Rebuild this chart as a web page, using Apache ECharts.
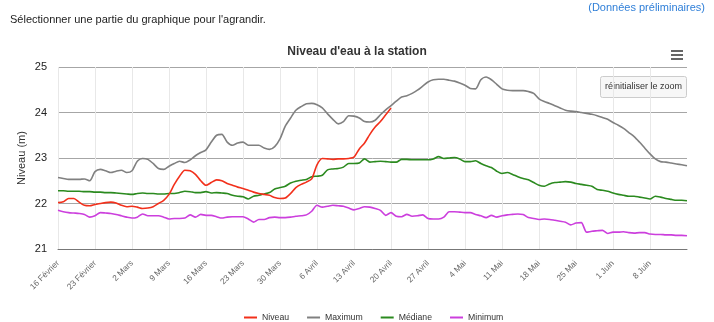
<!DOCTYPE html>
<html>
<head>
<meta charset="utf-8">
<script src="https://cdn.jsdelivr.net/npm/echarts@6/dist/echarts.min.js"></script>
<style>
html,body{margin:0;padding:0;background:#fff;}
#c{width:714px;height:322px;}
</style>
</head>
<body>
<div id="c"></div>
<script>
// Dates: 16 Feb .. 15 Jun (daily)
const monthNames = ["Janvier","Février","Mars","Avril","Mai","Juin"];
const monthDays = [31,28,31,30,31,30];
const startMonth = 1, startDay = 16, dayCount = 120;
const labelStep = 7, lastLabelIndex = 112;

const niveau = [22.02,22.04,22.11,22.11,22.03,21.96,21.95,21.98,22.00,22.02,
22.03,22.01,21.96,21.93,21.94,21.92,21.89,21.90,21.93,22.00,
22.07,22.20,22.42,22.60,22.73,22.72,22.64,22.50,22.40,22.46,
22.52,22.50,22.44,22.40,22.36,22.33,22.29,22.25,22.22,22.20,
22.18,22.13,22.11,22.12,22.22,22.35,22.42,22.47,22.54,22.85,
22.99,22.98,22.97,22.98,22.98,22.99,23.02,23.20,23.33,23.52,
23.68,23.80,23.95,24.10];

const maximum = [22.57,22.55,22.53,22.53,22.53,22.54,22.50,22.70,22.75,22.72,
22.68,22.71,22.73,22.68,22.72,22.93,22.99,22.97,22.88,22.77,
22.75,22.82,22.88,22.93,22.90,22.96,23.05,23.12,23.18,23.35,
23.50,23.52,23.35,23.28,23.33,23.35,23.28,23.28,23.28,23.22,
23.19,23.25,23.42,23.70,23.88,24.05,24.13,24.19,24.20,24.17,
24.10,23.97,23.85,23.75,23.80,23.93,23.92,23.88,23.80,23.79,
23.83,23.95,24.06,24.15,24.25,24.34,24.37,24.42,24.49,24.58,
24.67,24.72,24.73,24.73,24.71,24.69,24.65,24.60,24.53,24.52,
24.72,24.78,24.72,24.62,24.52,24.49,24.48,24.48,24.48,24.46,
24.42,24.30,24.24,24.20,24.15,24.10,24.05,24.03,24.02,24.00,
23.98,23.96,23.93,23.89,23.85,23.78,23.72,23.65,23.56,23.47,
23.35,23.22,23.09,22.98,22.92,22.91,22.89,22.87,22.85,22.83];

const mediane = [22.28,22.28,22.27,22.27,22.27,22.26,22.26,22.25,22.25,22.24,
22.24,22.23,22.22,22.21,22.20,22.22,22.23,22.22,22.22,22.21,
22.21,22.22,22.22,22.24,22.27,22.26,22.24,22.24,22.26,22.23,
22.24,22.23,22.22,22.18,22.16,22.15,22.10,22.16,22.18,22.21,
22.24,22.32,22.35,22.38,22.45,22.49,22.51,22.53,22.59,22.60,
22.62,22.74,22.76,22.77,22.80,22.88,22.88,22.89,22.98,22.91,
22.92,22.93,22.92,22.91,22.91,22.97,22.97,22.96,22.96,22.96,
22.96,22.98,23.03,22.99,23.00,23.01,22.98,22.92,22.92,22.94,
22.88,22.83,22.79,22.71,22.66,22.68,22.64,22.59,22.55,22.52,
22.46,22.40,22.38,22.43,22.46,22.47,22.48,22.47,22.44,22.42,
22.40,22.38,22.31,22.29,22.27,22.23,22.20,22.18,22.16,22.16,
22.14,22.12,22.10,22.16,22.14,22.11,22.09,22.07,22.07,22.06];

const minimum = [21.85,21.82,21.80,21.79,21.78,21.76,21.70,21.73,21.80,21.79,
21.78,21.76,21.73,21.70,21.68,21.70,21.77,21.73,21.73,21.73,
21.70,21.66,21.67,21.67,21.68,21.75,21.70,21.76,21.74,21.74,
21.71,21.68,21.70,21.71,21.71,21.71,21.66,21.59,21.65,21.65,
21.69,21.70,21.69,21.69,21.70,21.72,21.73,21.75,21.83,21.96,
21.92,21.94,21.96,21.95,21.94,21.90,21.86,21.89,21.93,21.92,
21.89,21.85,21.74,21.80,21.72,21.71,21.76,21.72,21.73,21.75,
21.67,21.66,21.66,21.70,21.82,21.82,21.81,21.80,21.80,21.76,
21.73,21.69,21.74,21.70,21.73,21.75,21.76,21.77,21.76,21.69,
21.67,21.65,21.66,21.65,21.63,21.61,21.59,21.53,21.57,21.58,
21.37,21.39,21.40,21.41,21.34,21.37,21.37,21.38,21.36,21.35,
21.36,21.36,21.33,21.32,21.32,21.31,21.31,21.30,21.30,21.29];

const seriesNames = ["Niveau","Maximum","Médiane","Minimum"];
const seriesColors = ["#f2301b","#808080","#2b8a1f","#cc3fdd"];
const yTicks = [21,22,23,24,25];

// build category labels
const categories = [];
{
  let m = startMonth, d = startDay;
  for (let i = 0; i < dayCount; i++) {
    categories.push(d + " " + monthNames[m]);
    d++;
    if (d > monthDays[m]) { d = 1; m++; }
  }
}
const showTick = (idx) => idx % labelStep === 0 && idx <= lastLabelIndex;

const chart = echarts.init(document.getElementById('c'), null, {renderer:'canvas'});
const FONT = 'Liberation Sans, Arial, sans-serif';
const datasets = [niveau, maximum, mediane, minimum];

chart.setOption({
  animation: false,
  backgroundColor: '#fff',
  title: {
    text: "Niveau d'eau à la station",
    left: 'center', top: 41,
    textStyle: {fontFamily: FONT, fontSize: 12, fontWeight: 'bold', color: '#333'}
  },
  legend: {
    data: seriesNames,
    left: 239, top: 308,
    icon: 'rect', itemWidth: 13, itemHeight: 2, itemGap: 18,
    textStyle: {fontFamily: FONT, fontSize: 8.7, color: '#333'}
  },
  grid: {left: 58, right: 27, top: 67, height: 182},
  xAxis: {
    type: 'category',
    data: categories,
    boundaryGap: false,
    axisLine: {show: true, lineStyle: {color: '#777', width: 1}},
    axisTick: {show: false},
    axisLabel: {
      interval: showTick, rotate: 45, fontFamily: FONT, fontSize: 8.3,
      color: '#666', margin: 13
    },
    splitLine: {show: true, interval: showTick, lineStyle: {color: '#e8e8e8', width: 1}}
  },
  yAxis: {
    type: 'value',
    min: yTicks[0], max: yTicks[yTicks.length-1], interval: 1,
    axisLine: {show: false}, axisTick: {show: false},
    axisLabel: {fontFamily: FONT, fontSize: 11, color: '#222', margin: 11},
    splitLine: {show: true, lineStyle: {color: '#a6a6a6', width: 1}}
  },
  series: seriesNames.map((n, i) => ({
    name: n, type: 'line', data: datasets[i], showSymbol: false, smooth: 0.25,
    lineStyle: {color: seriesColors[i], width: 1.6},
    itemStyle: {color: seriesColors[i]},
    z: 10 - i
  })),
  graphic: [
    {type: 'text', x: 22, y: 158, rotation: Math.PI / 2,
     style: {text: 'Niveau (m)', font: '11px ' + FONT, fill: '#333', align: 'center', verticalAlign: 'middle'}},
    {type: 'text', left: 10, top: 14, style: {text: "Sélectionner une partie du graphique pour l'agrandir.", font: '11px ' + FONT, fill: '#222'}},
    {type: 'text', right: 9, top: 2, style: {text: "(Données préliminaires)", font: '11px ' + FONT, fill: '#2f7fd8'}},
    {type: 'group', left: 671, top: 50, children: [
      {type: 'rect', shape: {x: 0, y: 0, width: 12, height: 2}, style: {fill: '#666'}},
      {type: 'rect', shape: {x: 0, y: 4, width: 12, height: 2}, style: {fill: '#666'}},
      {type: 'rect', shape: {x: 0, y: 8, width: 12, height: 2}, style: {fill: '#666'}}
    ]},
    {type: 'group', left: 600, top: 76, children: [
      {type: 'rect', shape: {x: 0, y: 0, width: 86, height: 21, r: 2}, style: {fill: '#f7f7f7', stroke: '#cccccc', lineWidth: 1}},
      {type: 'text', x: 43, y: 10.5, style: {text: 'réinitialiser le zoom', font: '9px ' + FONT, fill: '#333', align: 'center', verticalAlign: 'middle'}}
    ]}
  ]
});
</script>
</body>
</html>
